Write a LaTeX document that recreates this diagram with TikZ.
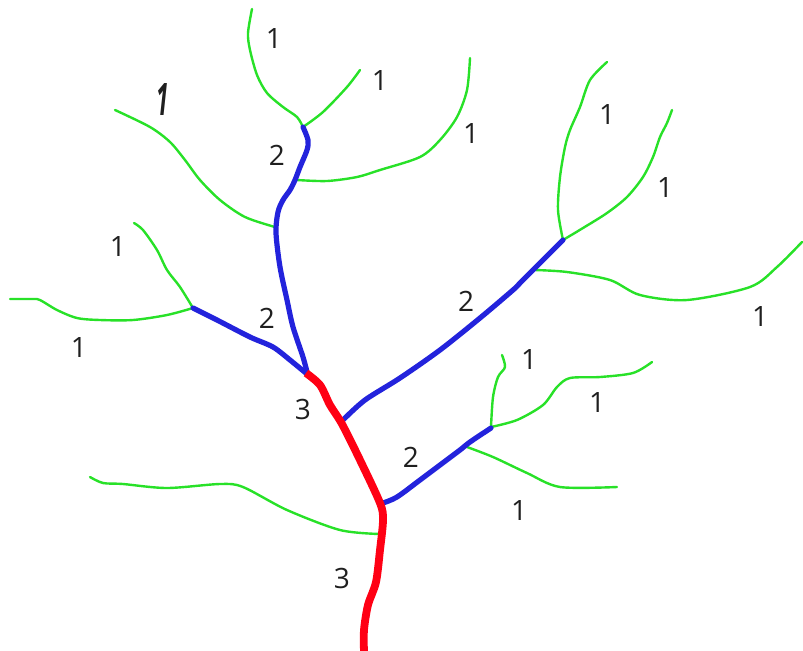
\documentclass[tikz,border=0pt]{standalone}
\usepackage{fontspec}
\setmainfont{Open Sans}
\definecolor{streamred}{RGB}{255,0,20}
\definecolor{streamblue}{RGB}{35,35,220}
\definecolor{streamgreen}{RGB}{40,225,40}
\begin{document}
\begin{tikzpicture}[
    x=0.5pt, y=-0.5pt,
    every node/.style={font=\fontsize{14}{16}\selectfont, text=black!88},
    order1/.style={draw=streamgreen, line width=1.2pt, line cap=round},
    order2/.style={draw=streamblue, line width=2.6pt, line cap=round, line join=round},
    order3/.style={draw=streamred, line width=3.9pt, line join=round}
  ]
    \useasboundingbox (0,0) rectangle (803,650);

    % first order streams
    \draw[order1] plot[smooth, tension=0.5] coordinates {(303,127) (297,117) (283,107) (267,93) (257,75) (250,50) (248,33) (252,9)};
    \draw[order1] plot[smooth, tension=0.5] coordinates {(303,127) (323,112) (347,87) (360,70)};
    \draw[order1] plot[smooth, tension=0.5] coordinates {(297,180) (327,181) (357,177) (380,170) (420,157) (440,140) (457,117) (467,90) (470,58)};
    \draw[order1] plot[smooth, tension=0.5] coordinates {(115,110) (150,127) (170,142) (185,160) (200,180) (220,200) (245,217) (275,227)};
    \draw[order1] plot[smooth, tension=0.5] coordinates {(193,308) (180,287) (167,270) (157,250) (143,230) (134,223)};
    \draw[order1] plot[smooth, tension=0.5] coordinates {(193,308) (167,315) (133,320) (100,320) (77,318) (57,310) (40,300) (33,299) (10,299)};
    \draw[order1] plot[smooth, tension=0.5] coordinates {(563,240) (558,210) (560,177) (565,147) (570,130) (580,107) (590,80) (607,62)};
    \draw[order1] plot[smooth, tension=0.5] coordinates {(563,240) (583,228) (607,213) (627,197) (643,177) (653,157) (660,137) (667,123) (672,110)};
    \draw[order1] plot[smooth, tension=0.5] coordinates {(535,270) (567,272) (610,280) (640,295) (687,300) (750,287) (777,267) (802,242)};
    \draw[order1] plot[smooth, tension=0.5] coordinates {(491,427) (493,397) (498,377) (505,367) (502,355)};
    \draw[order1] plot[smooth, tension=0.5] coordinates {(491,427) (517,420) (543,405) (557,387) (570,378) (600,377) (633,373) (652,362)};
    \draw[order1] plot[smooth, tension=0.5] coordinates {(467,447) (493,457) (527,473) (560,487) (617,487)};
    \draw[order1] plot[smooth, tension=0.5] coordinates {(90,477) (103,483) (123,484) (167,488) (220,484) (243,487) (287,510) (340,530) (380,534)};

    % second order streams
    \draw[order2] plot[smooth, tension=0.5] coordinates {(307,372) (303,357) (293,327) (287,300) (280,267) (276,233) (278,212) (283,200) (290,190) (295,180) (300,167) (307,150) (308,140) (303,127)};
    \draw[order2] plot[smooth, tension=0.5] coordinates {(307,374) (290,360) (273,347) (250,337) (217,320) (193,308)};
    \draw[order2] plot[smooth, tension=0.5] coordinates {(343,420) (365,400) (400,378) (440,350) (480,318) (513,290) (520,283) (533,270) (563,240)};
    \draw[order2] plot[smooth, tension=0.5] coordinates {(383,503) (397,497) (420,480) (440,465) (460,450) (470,442) (491,428)};

    % third order stream
    \draw[order3] plot[smooth, tension=0.5] coordinates {(306,373) (320,385) (330,405) (342,424) (360,460) (380,503) (383,520) (380,550) (376,582) (368,605) (364,630) (364,652)};

    % stream order labels
    \node (l1a) at (274,38) {1};
    \node (l1b) at (380,80) {1};
    \node (l1c) at (163,100) {\scalebox{0.8}[1.6]{\bfseries\itshape 1}};
    \node (l1d) at (471,133) {1};
    \node (l2a) at (277,155) {2};
    \node (l1e) at (118,246) {1};
    \node (l1f) at (607,114) {1};
    \node (l1g) at (665,187) {1};
    \node (l2b) at (466,301) {2};
    \node (l2c) at (267,318) {2};
    \node (l1h) at (79,347) {1};
    \node (l1i) at (760,316) {1};
    \node (l1j) at (529,359) {1};
    \node (l1k) at (597,402) {1};
    \node (l3a) at (303,409) {3};
    \node (l2d) at (411,457) {2};
    \node (l1l) at (519,510) {1};
    \node (l3b) at (342,578) {3};
\end{tikzpicture}
\end{document}
